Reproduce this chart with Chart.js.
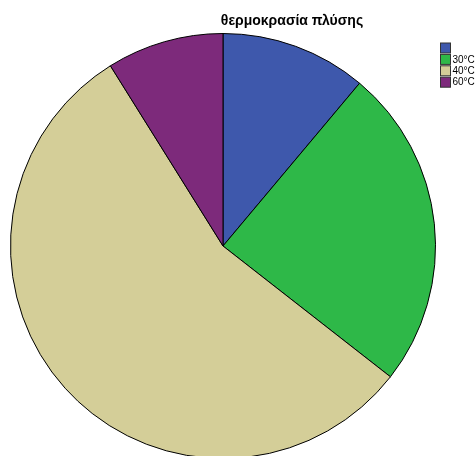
<!DOCTYPE html>
<html>
<head>
<meta charset="utf-8">
<script src="https://cdn.jsdelivr.net/npm/chart.js@4/dist/chart.umd.min.js"></script>
<style>
  html, body { margin: 0; padding: 0; background: #ffffff; overflow: hidden; }
  #wrap { position: absolute; left: 0; top: 0; width: 476px; height: 470px; }
</style>
</head>
<body>
<div id="wrap"><canvas id="chart" width="476" height="470"></canvas></div>
<script>
// Washing temperature (θερμοκρασία πλύσης) counts
const chartTitle = 'θερμοκρασία πλύσης';
const categories = ['', '30°C', '40°C', '60°C'];
const counts = [5, 11, 25, 4];
const sliceColors = ['#3e58ac', '#2eb848', '#d4ce98', '#7d2a7b'];

// Title and box legend drawn on the canvas, top right
const annotations = {
  id: 'annotations',
  afterDraw(chart) {
    const ctx = chart.ctx;
    ctx.save();
    ctx.fillStyle = '#000';
    ctx.font = 'bold 14px "Liberation Sans", Arial, sans-serif';
    ctx.textAlign = 'center';
    ctx.textBaseline = 'middle';
    ctx.fillText(chartTitle, 292, 21);

    ctx.font = '10px "Liberation Sans", Arial, sans-serif';
    ctx.textAlign = 'left';
    const labels = chart.data.labels;
    const colors = chart.data.datasets[0].backgroundColor;
    labels.forEach((lab, i) => {
      const y = 42.5 + i * 11.4;
      ctx.fillStyle = colors[i];
      ctx.fillRect(440.5, y + 0.5, 10, 10);
      ctx.strokeStyle = '#333';
      ctx.lineWidth = 1;
      ctx.strokeRect(440.5, y + 0.5, 10, 10);
      ctx.fillStyle = '#000';
      ctx.fillText(lab, 452.5, y + 6);
    });
    ctx.restore();
  }
};

new Chart(document.getElementById('chart'), {
  type: 'pie',
  data: {
    labels: categories,
    datasets: [{
      data: counts,
      backgroundColor: sliceColors,
      borderColor: '#000',
      borderWidth: 1
    }]
  },
  options: {
    responsive: false,
    animation: false,
    layout: { padding: { left: 10, top: 33, right: 40, bottom: 11 } },
    plugins: {
      legend: { display: false },
      title: { display: false },
      tooltip: { enabled: false }
    }
  },
  plugins: [annotations]
});
</script>
</body>
</html>
